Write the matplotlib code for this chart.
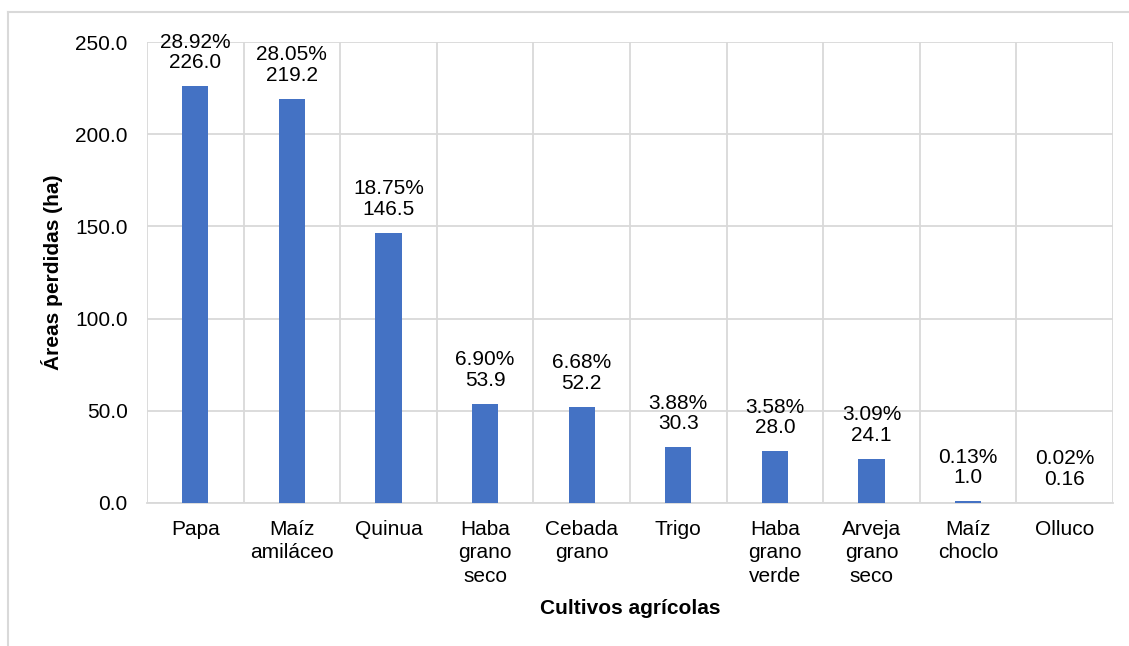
import matplotlib
matplotlib.use("Agg")
import matplotlib.pyplot as plt
from matplotlib.lines import Line2D

categories = ["Papa", "Maíz\namiláceo", "Quinua", "Haba\ngrano\nseco", "Cebada\ngrano",
              "Trigo", "Haba\ngrano\nverde", "Arveja\ngrano\nseco", "Maíz\nchoclo", "Olluco"]
values = [226.0, 219.2, 146.5, 53.9, 52.2, 30.3, 28.0, 24.1, 1.0, 0.16]
value_labels = ["226.0", "219.2", "146.5", "53.9", "52.2", "30.3", "28.0", "24.1", "1.0", "0.16"]
percent_labels = ["28.92%", "28.05%", "18.75%", "6.90%", "6.68%", "3.88%", "3.58%", "3.09%", "0.13%", "0.02%"]
y_ticks = [0, 50, 100, 150, 200, 250]

plt.rcParams['font.family'] = ['Liberation Sans', 'DejaVu Sans']
fig = plt.figure(figsize=(11.29, 6.46), dpi=100)
ax = fig.add_axes([147/1129, 1-503/646, (1113-147)/1129, (503-42)/646])

grid_c = "#D9D9D9"
x = list(range(len(categories)))
bars = ax.bar(x, values, width=0.27, color="#4472C4", zorder=3)

for xi, v, p, vl in zip(x, values, percent_labels, value_labels):
    ax.annotate(p + "\n" + vl, (xi, v), xytext=(0, 10), textcoords="offset points",
                ha="center", va="bottom", fontsize=15, linespacing=1.1, color="#000000",
                annotation_clip=False)

ax.set_xlim(-0.5, len(categories) - 0.5)
ax.set_ylim(0, 250)
ax.set_yticks(y_ticks)
ax.set_yticklabels([f"{t:.1f}" for t in y_ticks], fontsize=15)
ax.set_xticks(x)
ax.set_xticklabels(categories, fontsize=15, linespacing=1.3)
ax.set_xticks([i - 0.5 for i in range(len(categories) + 1)], minor=True)
ax.tick_params(axis="both", which="both", length=0)
ax.tick_params(axis="y", pad=14)
ax.tick_params(axis="x", pad=12)
ax.grid(axis="y", which="major", color=grid_c, linewidth=1.3, zorder=0)
ax.grid(axis="x", which="minor", color=grid_c, linewidth=1.3, zorder=0)
ax.grid(axis="x", which="major", visible=False)
for s in ["top", "right", "left"]:
    ax.spines[s].set_visible(False)
ax.spines["bottom"].set_color(grid_c)
ax.spines["bottom"].set_linewidth(1.3)

ax.set_xlabel("Cultivos agrícolas", fontsize=15, fontweight="bold")
ax.xaxis.set_label_coords(0.5, (503 - 608) / (503 - 42))
ax.xaxis.label.set_va("center")
ax.set_ylabel("Áreas perdidas (ha)", fontsize=15, fontweight="bold")
ax.yaxis.set_label_coords((52 - 147) / (1113 - 147), 0.5)
ax.yaxis.label.set_va("center")

# outer frame
fig.add_artist(Line2D([8/1129, 8/1129], [0, 1-12/646], transform=fig.transFigure, color=grid_c, lw=1.5))
fig.add_artist(Line2D([8/1129, 1], [1-12/646, 1-12/646], transform=fig.transFigure, color=grid_c, lw=1.5))

fig.savefig("out.png", dpi=100)
